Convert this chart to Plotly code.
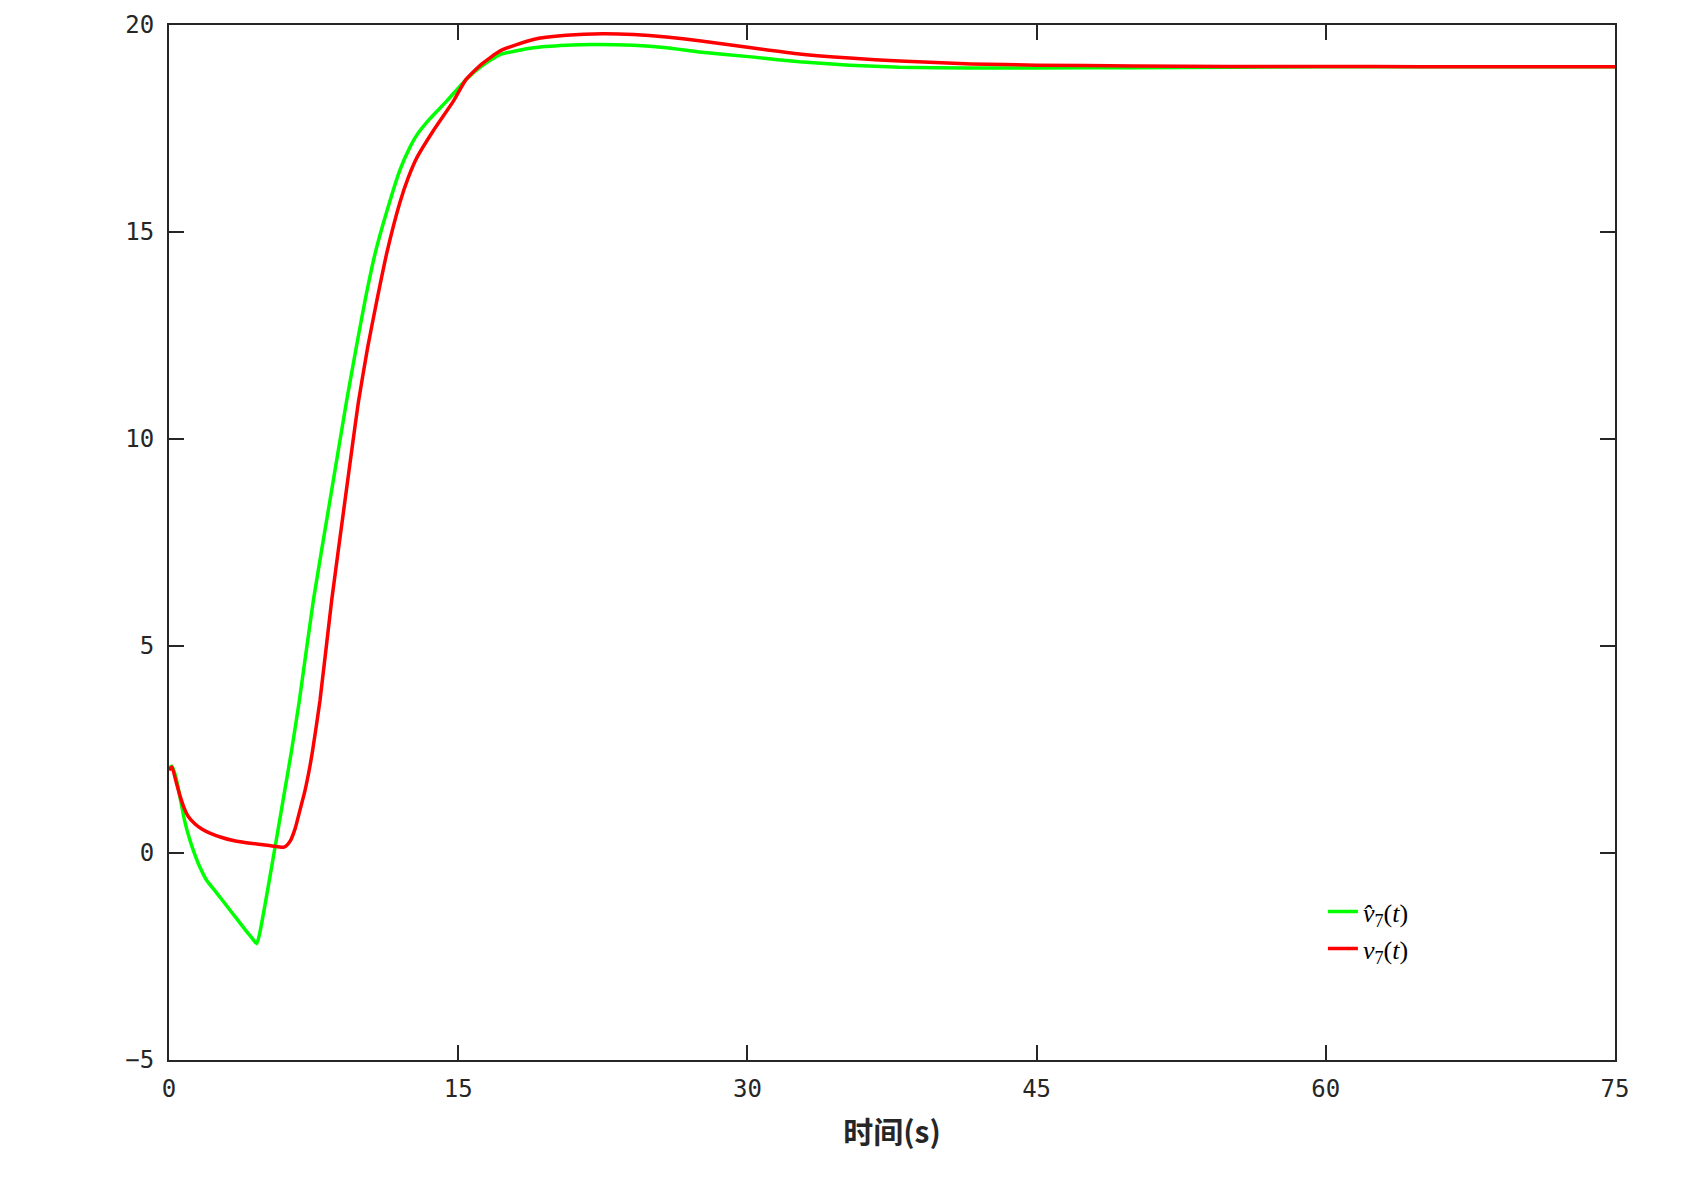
import plotly.graph_objects as go

# time samples and values
t_hat = [0.0, 0.15, 0.35, 0.57, 0.8, 1.09, 1.35, 1.6, 1.95, 2.5, 3.0, 3.5, 4.0, 4.3, 4.55, 4.7,
         5.0, 5.5, 6.0, 6.36, 6.76, 7.49, 8.35, 9.22, 9.7, 10.17, 10.7, 11.3, 11.98, 12.5, 12.85,
         13.5, 14.4, 15.4, 16.2, 17.2, 18.9, 20.6, 22.0, 24.1, 25.8, 27.5, 30.2, 32.7, 35.3,
         37.9, 41.6, 45.0, 50.0, 55.0, 60.0, 65.0, 70.0, 75.0]
v_hat = [2.05, 2.1, 1.85, 1.35, 0.8, 0.30, -0.05, -0.34, -0.66, -0.98, -1.28, -1.58, -1.88, -2.05, -2.19, -1.95,
         -1.2, 0.14, 1.5, 2.48, 3.68, 6.11, 8.52, 10.94, 12.18, 13.35, 14.5, 15.5, 16.5, 17.05, 17.34,
         17.72, 18.16, 18.68, 19.0, 19.29, 19.45, 19.51, 19.53, 19.51, 19.45, 19.35, 19.23, 19.11, 19.03,
         18.98, 18.96, 18.96, 18.97, 18.98, 18.99, 18.99, 18.99, 18.99]

t_act = [0.0, 0.15, 0.35, 0.57, 0.8, 1.0, 1.35, 1.7, 2.12, 2.7, 3.33, 4.0, 4.55, 5.2, 5.93, 6.05, 6.3,
         6.55, 6.79, 7.05, 7.3, 7.45, 7.83, 8.44, 9.13, 9.5, 9.82, 10.3, 10.77, 11.3, 11.98, 12.4, 12.85,
         13.7, 14.75, 15.4, 16.2, 17.2, 18.9, 20.6, 22.5, 24.1, 25.8, 27.5, 30.2, 32.7, 35.3,
         37.9, 41.6, 45.0, 50.0, 55.0, 60.0, 65.0, 70.0, 75.0]
v_act = [2.0, 2.08, 1.75, 1.38, 1.07, 0.88, 0.7, 0.58, 0.48, 0.38, 0.30, 0.25, 0.22, 0.18, 0.14, 0.16, 0.3,
         0.6, 1.03, 1.5, 2.07, 2.48, 3.68, 6.11, 8.52, 9.8, 10.88, 12.2, 13.32, 14.5, 15.72, 16.3, 16.79,
         17.44, 18.16, 18.68, 19.05, 19.38, 19.65, 19.75, 19.79, 19.77, 19.71, 19.62, 19.45, 19.30, 19.2,
         19.13, 19.06, 19.03, 19.01, 19.0, 19.0, 18.99, 18.99, 18.99]

x_ticks = [0, 15, 30, 45, 60, 75]
y_ticks = [-5, 0, 5, 10, 15, 20]
x_title = "时间(s)"
name_hat = "<i>v\u0302</i><sub>7</sub>(<i>t</i>)"
name_act = "<i>v</i><sub>7</sub>(<i>t</i>)"

fig = go.Figure()
fig.add_trace(go.Scatter(x=t_hat, y=v_hat, mode="lines", name=name_hat,
                         line=dict(color="#00ff00", width=3.5, shape="spline", smoothing=0.5)))
fig.add_trace(go.Scatter(x=t_act, y=v_act, mode="lines", name=name_act,
                         line=dict(color="#ff0000", width=3.5, shape="spline", smoothing=0.5)))

axis_common = dict(showgrid=False, zeroline=False, showline=True, linecolor="#262626", linewidth=2,
                   mirror="ticks", ticks="inside", ticklen=15, tickwidth=2, tickcolor="#262626",
                   automargin=False,
                   tickfont=dict(family="DejaVu Sans Mono", size=24, color="#262626"))

fig.update_xaxes(range=[0, 75], tickvals=x_ticks, ticktext=[str(v) for v in x_ticks],
                 ticklabelstandoff=6,
                 title=dict(text="<b>" + x_title + "</b>\u00a0\u00a0\u00a0",
                            font=dict(family="Noto Sans CJK SC", size=30, color="#262626"),
                            standoff=20),
                 **axis_common)
fig.update_yaxes(range=[-5, 20], tickvals=y_ticks, ticktext=["\u22125" if v < 0 else str(v) for v in y_ticks],
                 ticklabelstandoff=8, **axis_common)

fig.update_layout(
    width=1699, height=1177,
    margin=dict(l=161, r=92, t=17, b=125),
    paper_bgcolor="white", plot_bgcolor="white",
    showlegend=True,
    legend=dict(x=0.798, y=0.166, xanchor="left", yanchor="top",
                bgcolor="rgba(0,0,0,0)", borderwidth=0,
                font=dict(family="Liberation Serif", size=26, color="#000000"),
                tracegroupgap=0),
)

fig.write_html("out.html")
